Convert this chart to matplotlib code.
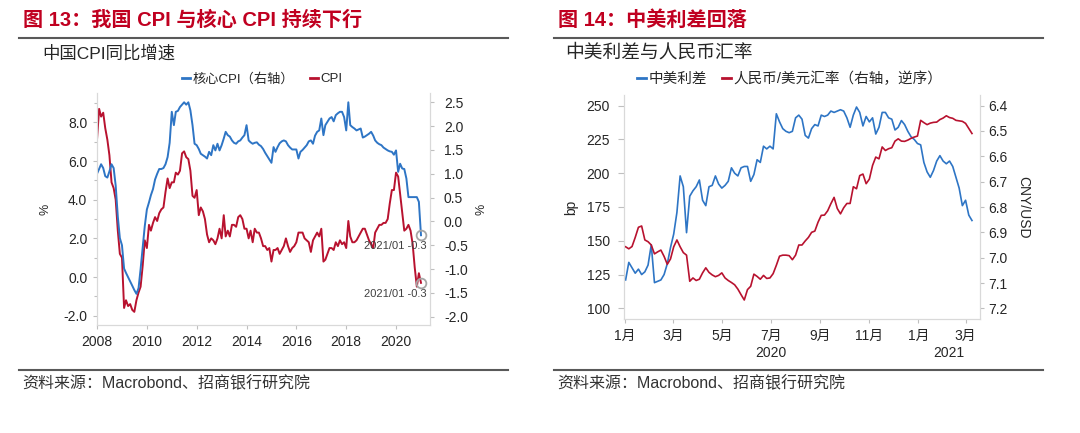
import pandas as pd
import matplotlib
matplotlib.use('Agg')
import matplotlib.pyplot as plt
import matplotlib.dates as mdates
from matplotlib.ticker import MultipleLocator, FormatStrFormatter, FuncFormatter
from matplotlib.lines import Line2D
from matplotlib.transforms import blended_transform_factory

plt.rcParams['font.family'] = ['Liberation Sans', 'Noto Sans CJK SC']

# ---- data: figure 13, monthly from 2008/01 to 2021/01 ----
cpi_start = '2008-01-01'
cpi = [
    7.1, 8.7, 8.3, 8.5, 7.7, 7.1, 6.3, 4.9, 4.6, 4.0, 2.4, 1.2,
    1.0, -1.6, -1.2, -1.5, -1.4, -1.7, -1.8, -1.2, -0.8, -0.5, 0.6, 1.9,
    1.5, 2.7, 2.4, 2.8, 3.1, 2.9, 3.3, 3.5, 3.6, 4.4, 5.1, 4.6,
    4.9, 4.9, 5.4, 5.3, 5.5, 6.4, 6.5, 6.2, 6.1, 5.5, 4.2, 4.1,
    4.5, 3.2, 3.6, 3.4, 3.0, 2.2, 1.8, 2.0, 1.9, 1.7, 2.0, 2.5,
    2.0, 3.2, 2.1, 2.4, 2.1, 2.7, 2.7, 2.6, 3.1, 3.2, 3.0, 2.5,
    2.5, 2.0, 2.4, 1.8, 2.5, 2.3, 2.3, 2.0, 1.6, 1.6, 1.4, 1.5,
    0.8, 1.4, 1.4, 1.5, 1.2, 1.4, 1.6, 2.0, 1.6, 1.3, 1.5, 1.6,
    1.8, 2.3, 2.3, 2.3, 2.0, 1.9, 1.8, 1.3, 1.9, 2.1, 2.3, 2.1,
    2.5, 0.8, 0.9, 1.2, 1.5, 1.5, 1.4, 1.8, 1.6, 1.9, 1.7, 1.8,
    1.5, 2.9, 2.1, 1.8, 1.8, 1.9, 2.1, 2.3, 2.5, 2.5, 2.2, 1.9,
    1.7, 1.5, 2.3, 2.5, 2.7, 2.7, 2.8, 2.8, 3.0, 3.8, 4.5, 4.5,
    5.4, 5.2, 4.3, 3.3, 2.4, 2.5, 2.7, 2.4, 1.7, 0.5, -0.5, 0.2,
    -0.3,
]
core_cpi = [
    1.00, 1.10, 1.20, 1.12, 0.95, 0.92, 1.05, 1.20, 1.12, 0.75, 0.10, -0.35,
    -0.50, -0.99, -1.08, -1.17, -1.26, -1.35, -1.44, -1.52, -1.40, -1.00, -0.55, -0.10,
    0.25, 0.40, 0.55, 0.68, 0.88, 1.00, 1.10, 1.10, 1.12, 1.20, 1.35, 1.65,
    2.30, 2.02, 2.30, 2.32, 2.40, 2.45, 2.50, 2.45, 2.50, 2.33, 2.02, 1.63,
    1.60, 1.52, 1.42, 1.39, 1.36, 1.32, 1.46, 1.39, 1.60, 1.49, 1.63, 1.49,
    1.60, 1.74, 1.88, 1.81, 1.78, 1.70, 1.65, 1.63, 1.68, 1.70, 1.76, 1.81,
    2.02, 1.70, 1.66, 1.63, 1.65, 1.66, 1.61, 1.58, 1.52, 1.44, 1.37, 1.30,
    1.23, 1.56, 1.46, 1.56, 1.64, 1.68, 1.70, 1.68, 1.60, 1.55, 1.51, 1.51,
    1.51, 1.32, 1.46, 1.50, 1.55, 1.60, 1.68, 1.70, 1.63, 1.80, 1.88, 1.91,
    2.16, 1.81, 2.02, 2.09, 2.16, 2.19, 2.10, 2.23, 2.27, 2.30, 2.30, 2.19,
    1.91, 2.50, 2.02, 1.98, 1.95, 1.91, 1.93, 1.95, 1.76, 1.78, 1.81, 1.84,
    1.88, 1.80, 1.70, 1.65, 1.62, 1.60, 1.55, 1.52, 1.49, 1.47, 1.46, 1.40,
    1.49, 1.04, 1.21, 1.11, 1.10, 0.90, 0.51, 0.51, 0.51, 0.51, 0.51, 0.41,
    -0.29,
]

# ---- data: figure 14, every 4 days from 2020-01-02 ----
spread_start = '2020-01-02'
spread_bp = [
    121, 134, 130, 126, 129, 125, 127, 132, 147, 119, 120, 121,
    125, 133, 145, 155, 171, 198, 190, 156, 183, 187, 190, 195,
    180, 176, 190, 191, 198, 192, 189, 191, 194, 204, 200, 198,
    204, 205, 205, 194, 199, 210, 208, 220, 218, 220, 218, 244,
    238, 233, 231, 230, 231, 241, 243, 240, 228, 226, 233, 236,
    235, 243, 242, 243, 246, 245, 246, 247, 246, 241, 234, 243,
    249, 245, 235, 242, 238, 241, 229, 234, 245, 245, 241, 240,
    232, 234, 239, 236, 231, 227, 225, 222, 221, 208, 201, 197,
    202, 209, 213, 209, 207, 209, 205, 197, 189, 176, 180, 169,
    165,
]
cny_usd = [
    6.957, 6.965, 6.956, 6.920, 6.880, 6.875, 6.930, 6.937, 6.950, 6.985, 6.977, 6.970,
    6.995, 7.026, 7.005, 6.957, 6.930, 6.957, 6.980, 6.990, 7.093, 7.080, 7.090, 7.085,
    7.060, 7.040, 7.058, 7.068, 7.075, 7.070, 7.060, 7.080, 7.090, 7.098, 7.107, 7.124,
    7.146, 7.167, 7.126, 7.113, 7.065, 7.074, 7.085, 7.070, 7.082, 7.080, 7.063, 7.030,
    6.994, 6.990, 6.990, 6.992, 7.008, 6.990, 6.950, 6.950, 6.934, 6.920, 6.900, 6.895,
    6.860, 6.833, 6.832, 6.815, 6.787, 6.762, 6.806, 6.827, 6.803, 6.786, 6.786, 6.720,
    6.728, 6.676, 6.670, 6.708, 6.690, 6.636, 6.603, 6.610, 6.563, 6.577, 6.570, 6.566,
    6.540, 6.531, 6.540, 6.541, 6.536, 6.529, 6.524, 6.520, 6.458, 6.467, 6.475, 6.469,
    6.466, 6.465, 6.455, 6.449, 6.440, 6.447, 6.450, 6.458, 6.460, 6.462, 6.470, 6.490,
    6.510,
]

W, H = 1080, 433
BLUE = '#2E75C5'
RED = '#B8122F'
TITLE_RED = '#C00020'
TXT = '#262626'
GRID = '#BFBFBF'


def fx(x):
    return x / W


def fy(y):
    return 1 - y / H


def style_axes(ax, size=10):
    ax.spines['top'].set_visible(False)
    for s in ('left', 'right', 'bottom'):
        ax.spines[s].set_color('#D9D9D9')
        ax.spines[s].set_linewidth(0.8)
    ax.tick_params(axis='both', which='both', color=GRID, labelcolor=TXT,
                   labelsize=size, width=0.8, direction='out')
    ax.tick_params(which='major', length=3)
    ax.tick_params(which='minor', length=2)


fig = plt.figure(figsize=(W / 100, H / 100), dpi=100)

# headers and footers
fig.text(fx(23), fy(20), '图 13：我国 CPI 与核心 CPI 持续下行', color=TITLE_RED,
         fontsize=14.5, fontweight='bold', va='center')
fig.text(fx(558), fy(20), '图 14：中美利差回落', color=TITLE_RED,
         fontsize=14.5, fontweight='bold', va='center')
for x0, x1 in ((19, 508), (554, 1043)):
    fig.add_artist(Line2D([fx(x0), fx(x1)], [fy(37.5)] * 2, color='#595959', lw=1.5))
    fig.add_artist(Line2D([fx(x0), fx(x1)], [fy(369.5)] * 2, color='#595959', lw=1.5))
fig.text(fx(42), fy(53), '中国CPI同比增速', color=TXT, fontsize=12.5, va='center')
fig.text(fx(565), fy(53), '中美利差与人民币汇率', color=TXT, fontsize=13.5, va='center')
fig.text(fx(22), fy(383), '资料来源：Macrobond、招商银行研究院', color='#333333',
         fontsize=11.5, va='center')
fig.text(fx(557), fy(383), '资料来源：Macrobond、招商银行研究院', color='#333333',
         fontsize=11.5, va='center')

# ---- figure 13 ----
cpi_dates = pd.date_range(cpi_start, periods=len(cpi), freq='MS')

ax1 = fig.add_axes([fx(97), fy(325), fx(430) - fx(97), fy(93) - fy(325)])
ax1.plot(cpi_dates, cpi, color=RED, lw=1.4)
ax1.set_xlim(pd.Timestamp('2008-01-01'), pd.Timestamp('2021-05-13'))
ax1.set_ylim(-2.48, 9.52)
ax1.yaxis.set_major_locator(MultipleLocator(2))
ax1.yaxis.set_minor_locator(MultipleLocator(1))
ax1.yaxis.set_major_formatter(FormatStrFormatter('%.1f'))
ax1.xaxis.set_major_locator(mdates.YearLocator(2))
ax1.xaxis.set_major_formatter(mdates.DateFormatter('%Y'))
style_axes(ax1)
ax1.tick_params(axis='y', pad=4)
ax1.tick_params(axis='x', pad=4)
ax1.set_ylabel('%', fontsize=9, color=TXT)
ax1.yaxis.set_label_coords(-0.138, 0.5)

ax1r = ax1.twinx()
ax1r.plot(cpi_dates, core_cpi, color=BLUE, lw=1.4)
ax1r.set_ylim(-2.174, 2.695)
ax1r.yaxis.set_major_locator(MultipleLocator(0.5))
ax1r.yaxis.set_major_formatter(FormatStrFormatter('%.1f'))
style_axes(ax1r)
ax1r.tick_params(axis='y', pad=7)
ax1r.set_ylabel('%', fontsize=9, color=TXT)
ax1r.yaxis.set_label_coords(1.137, 0.5)

for ax, vals in ((ax1r, core_cpi), (ax1, cpi)):
    ax.plot(cpi_dates[-1], vals[-1], 'o', ms=7, mfc='none', mec='#A6A6A6',
            mew=1.3, clip_on=False, zorder=5)
    ax.annotate(f'{cpi_dates[-1]:%Y/%m} {vals[-1]:.1f}', xy=(cpi_dates[-1], vals[-1]),
                xytext=(4, -8), textcoords='offset points', ha='right', va='center',
                fontsize=8, color='#404040')

fig.legend([Line2D([], [], color=BLUE, lw=2), Line2D([], [], color=RED, lw=2)],
           ['核心CPI（右轴）', 'CPI'], loc='center', bbox_to_anchor=(fx(262), fy(79)),
           ncol=2, frameon=False, fontsize=9.5, handlelength=0.6, handletextpad=0.2,
           columnspacing=1.2, labelcolor=TXT)

# ---- figure 14 ----
fx_dates = pd.date_range(spread_start, periods=len(spread_bp), freq='4D')
xmin, xmax = pd.Timestamp('2019-12-31'), pd.Timestamp('2021-03-19')

ax2 = fig.add_axes([fx(624), fy(319), fx(980) - fx(624), fy(95) - fy(319)])
ax2.plot(fx_dates, spread_bp, color=BLUE, lw=1.2)
ax2.set_xlim(xmin, xmax)
ax2.set_ylim(92.1, 257.9)
ax2.yaxis.set_major_locator(MultipleLocator(25))
ax2.xaxis.set_major_locator(mdates.MonthLocator(bymonth=[1, 3, 5, 7, 9, 11]))
ax2.xaxis.set_major_formatter(FuncFormatter(lambda v, p: f'{mdates.num2date(v).month}月'))
style_axes(ax2)
ax2.tick_params(axis='y', length=4, pad=6)
ax2.tick_params(axis='x', pad=4)
ax2.set_ylabel('bp', fontsize=10, color=TXT)
ax2.yaxis.set_label_coords(-0.128, 0.5)

ax2r = ax2.twinx()
ax2r.plot(fx_dates, cny_usd, color=RED, lw=1.2)
ax2r.set_ylim(7.242, 6.358)
ax2r.yaxis.set_major_locator(MultipleLocator(0.1))
ax2r.yaxis.set_major_formatter(FormatStrFormatter('%.1f'))
style_axes(ax2r)
ax2r.tick_params(axis='y', pad=3)
ax2r.set_ylabel('CNY/USD', fontsize=10, color=TXT, rotation=270, va='center')
ax2r.yaxis.set_label_coords(1.121, 0.5)

trans = blended_transform_factory(ax2.transData, ax2.transAxes)
for year in (2020, 2021):
    start = max(pd.Timestamp(year, 1, 1), xmin)
    end = min(pd.Timestamp(year, 12, 31), xmax)
    ax2.text(start + (end - start) / 2, -0.152, str(year), transform=trans,
             ha='center', va='center', fontsize=10, color=TXT)

fig.legend([Line2D([], [], color=BLUE, lw=2), Line2D([], [], color=RED, lw=2)],
           ['中美利差', '人民币/美元汇率（右轴，逆序）'], loc='center',
           bbox_to_anchor=(fx(790), fy(79)), ncol=2, frameon=False, fontsize=10.5,
           handlelength=0.6, handletextpad=0.2, columnspacing=1.0, labelcolor=TXT)

fig.savefig('out.png', dpi=100)
